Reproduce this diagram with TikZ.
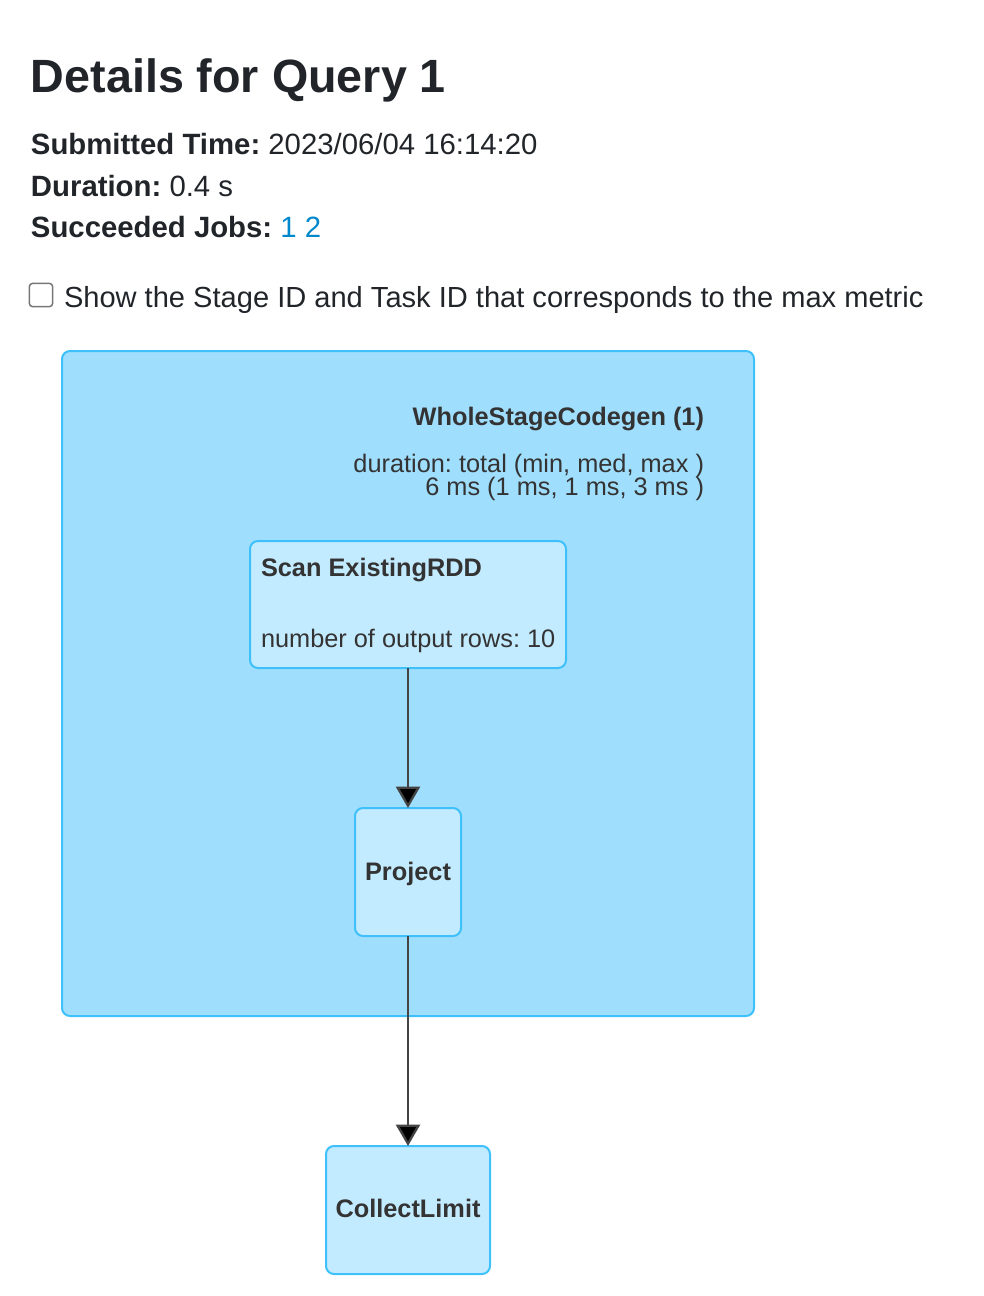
\documentclass[tikz,border=0pt]{standalone}
\usepackage{fontspec}
\setmainfont{Liberation Sans}
\usepackage{tikz}
\usetikzlibrary{positioning,arrows.meta,calc}
\definecolor{clusterfill}{HTML}{A0DEFD}
\definecolor{nodefill}{HTML}{C3EBFF}
\definecolor{nodeline}{HTML}{3EC1FA}
\definecolor{textdark}{HTML}{212529}
\definecolor{graphtext}{HTML}{333333}
\definecolor{edgegray}{HTML}{444444}
\definecolor{linkblue}{HTML}{0088CC}
\definecolor{boxgray}{HTML}{767676}
\frenchspacing

\begin{document}
\begin{tikzpicture}[x=0.75pt, y=-0.75pt, >={Triangle[length=16pt,width=18pt,fill=black]}, line width=1.5pt]
		\tikzstyle{every node}=[inner sep=0pt, outer sep=0pt]
		\tikzstyle{head}=[anchor=base west, text=textdark, font=\fontsize{22}{26}\selectfont]
		\tikzstyle{plan}=[draw=nodeline, fill=nodefill, rounded corners=6pt, line width=1.5pt]
		\tikzstyle{label}=[text=graphtext, font=\fontsize{19}{23}\selectfont]
		\tikzstyle{flow}=[->, draw=edgegray, line width=1.7pt]
		\useasboundingbox (0,0) rectangle (984,1296);

		% header
		\node[anchor=base west, text=textdark, font=\fontsize{35}{42}\selectfont\bfseries] (title) at (31,92) {Details for Query 1};
		\node[head] (submitted) at (31,154) {\textbf{Submitted Time:} 2023/06/04 16:14:20};
		\node[head] (duration) at (31,196) {\textbf{Duration:} 0.4 s};
		\node[head] (jobs) at (31,237) {\textbf{Succeeded Jobs:} \textcolor{linkblue}{1 2}};
		\node[draw=boxgray, line width=1.1pt, rounded corners=2.5pt, minimum size=17.5pt] (checkbox) at (41,295) {};
		\node[head, font=\fontsize{21.8}{26}\selectfont] (showtext) at (64,307) {Show the Stage ID and Task ID that corresponds to the max metric};

		% graph
		\node[draw=nodeline, fill=clusterfill, rounded corners=6pt, minimum width=519pt, minimum height=498.75pt] (cluster) at (408,683.5) {};
		\node[label, anchor=base east, font=\fontsize{19}{23}\selectfont\bfseries] (wsc) at (704,425) {WholeStageCodegen (1)};
		\node[label, anchor=base east] (metric1) at (704,472) {duration: total (min, med, max )};
		\node[label, anchor=base east] (metric2) at (704,495) {6 ms (1 ms, 1 ms, 3 ms )};

		\node[plan, minimum width=237pt, minimum height=95.25pt] (scan) at (408,604.5) {};
		\node[label, anchor=base west, font=\fontsize{19}{23}\selectfont\bfseries] (scantitle) at (261,576) {Scan ExistingRDD};
		\node[label, anchor=base west] (scanrows) at (261,647) {number of output rows: 10};
		\node[plan, minimum width=79.5pt, minimum height=96pt] (project) at (408,872) {};
		\node[label, anchor=base, font=\fontsize{19}{23}\selectfont\bfseries] (projecttext) at (408,880) {Project};
		\node[plan, minimum width=123pt, minimum height=96pt] (collect) at (408,1210) {};
		\node[label, anchor=base, font=\fontsize{19}{23}\selectfont\bfseries] (collecttext) at (408,1217) {CollectLimit};

		\draw[flow] (scan) -- (project);
		\draw[flow] (project) -- (collect);
	\end{tikzpicture}
\end{document}
